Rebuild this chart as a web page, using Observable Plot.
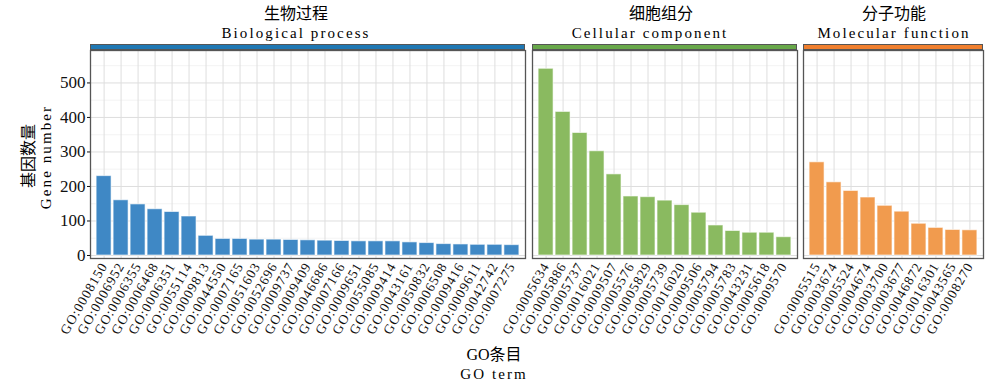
<!DOCTYPE html>
<html>
<head>
<meta charset="utf-8">
<script src="https://cdn.jsdelivr.net/npm/d3@7"></script>
<script src="https://cdn.jsdelivr.net/npm/@observablehq/plot@0.6"></script>
<style>
  html, body { margin: 0; padding: 0; background: #fff; }
  #chart { position: relative; width: 1000px; height: 386px; overflow: hidden; }
  #chart svg { position: absolute; left: 0; top: 0; }
  .t { position: absolute; white-space: nowrap; color: #000; transform: translate(-50%, -50%); line-height: 1; }
  .cn { font-family: "Liberation Serif", "Noto Sans CJK SC", serif; font-size: 16px; }
  .en { font-family: "Liberation Serif", "Times New Roman", serif; font-size: 15px; letter-spacing: 2.1px; }
  .strip { position: absolute; top: 44px; height: 6px; box-sizing: border-box; border: 1px solid #555; }
  #chart svg g[aria-label="y-axis tick label"] { font-family: "Liberation Serif", "Times New Roman", serif !important; font-size: 17px !important; }
  #chart svg g[aria-label="x-axis tick label"] { font-family: "Liberation Serif", "Times New Roman", serif !important; font-size: 13.5px !important; letter-spacing: 1px; }
</style>
</head>
<body>
<div id="chart"></div>
<script>
// ---- data ----
const bpTerms = ["GO:0008150","GO:0006952","GO:0006355","GO:0006468","GO:0006351","GO:0055114","GO:0009813","GO:0044550","GO:0007165","GO:0051603","GO:0052696","GO:0009737","GO:0009409","GO:0046686","GO:0007166","GO:0009651","GO:0055085","GO:0009414","GO:0043161","GO:0050832","GO:0006508","GO:0009416","GO:0009611","GO:0042742","GO:0007275"];
const bpCounts = [230,160,148,134,126,113,57,48,48,46,46,45,44,43,42,41,41,41,38,36,33,32,31,31,30];

const ccTerms = ["GO:0005634","GO:0005886","GO:0005737","GO:0016021","GO:0009507","GO:0005576","GO:0005829","GO:0005739","GO:0016020","GO:0009506","GO:0005794","GO:0005783","GO:0043231","GO:0005618","GO:0009570"];
const ccCounts = [541,416,355,302,235,171,169,159,146,124,87,71,66,66,53];

const mfTerms = ["GO:0005515","GO:0003674","GO:0005524","GO:0004674","GO:0003700","GO:0003677","GO:0046872","GO:0016301","GO:0043565","GO:0008270"];
const mfCounts = [270,212,187,168,144,127,92,80,74,73];

const panelTitlesCn = ["生物过程","细胞组分","分子功能"];
const panelTitlesEn = ["Biological process","Cellular component","Molecular function"];
const yTicks = [0,100,200,300,400,500];
const yMinorTicks = [50,150,250,350,450,550];
const yTitleCn = "基因数量", yTitleEn = "Gene number";
const xTitleCn = "GO条目", xTitleEn = "GO term";

// ---- styling / layout ----
const W = 1000, H = 386;
const panelTop = 50, panelBottom = 258;
const yDomain = [-8.7, 594];
const panels = [
  {terms: bpTerms, counts: bpCounts, left: 90, right: 525, fill: "#3f88c5", strip: "#1f78b4", yAxis: true, cnX: 296, enX: 296},
  {terms: ccTerms, counts: ccCounts, left: 532, right: 797, fill: "#8aba60", strip: "#68a84a", yAxis: false, cnX: 661, enX: 650},
  {terms: mfTerms, counts: mfCounts, left: 803, right: 983, fill: "#f19b4e", strip: "#f07f2e", yAxis: false, cnX: 894, enX: 894}
];

const chart = document.getElementById("chart");

panels.forEach((p, i) => {
  const data = p.terms.map((t, k) => ({term: t, n: p.counts[k]}));
  const svg = Plot.plot({
    width: W, height: H,
    marginLeft: p.left, marginRight: W - p.right,
    marginTop: panelTop, marginBottom: H - panelBottom,
    style: {background: "transparent", overflow: "visible"},
    x: {type: "band", domain: p.terms, paddingInner: 0.12, paddingOuter: 0.36, round: false, label: null},
    y: {domain: yDomain, label: null, axis: null},
    marks: [
      Plot.gridY(yMinorTicks, {stroke: "#f0f0f0", strokeOpacity: 1, strokeWidth: 0.8}),
      Plot.gridY(yTicks, {stroke: "#dedede", strokeOpacity: 1, strokeWidth: 1}),
      Plot.gridX({stroke: "#dedede", strokeOpacity: 1, strokeWidth: 1}),
      Plot.barY(data, {x: "term", y: "n", fill: p.fill, stroke: "#ffffff", strokeOpacity: 0.6, strokeWidth: 1}),
      Plot.frame({stroke: "#555", strokeWidth: 1.3}),
      Plot.axisX({tickRotate: -60, tickSize: 0, tickPadding: 5, fontFamily: "Liberation Serif", fontSize: 13.5, color: "#111", label: null}),
      p.yAxis ? Plot.axisY(yTicks, {tickSize: 3, tickPadding: 2, fontFamily: "Liberation Serif", fontSize: 17, color: "#111", label: null}) : null
    ]
  });
  chart.appendChild(svg);

  const strip = document.createElement("div");
  strip.className = "strip";
  strip.style.left = p.left + "px";
  strip.style.width = (p.right - p.left) + "px";
  strip.style.background = p.strip;
  chart.appendChild(strip);

  const cn = document.createElement("div");
  cn.className = "t cn";
  cn.textContent = panelTitlesCn[i];
  cn.style.left = p.cnX + "px"; cn.style.top = "14px";
  chart.appendChild(cn);

  const en = document.createElement("div");
  en.className = "t en";
  en.textContent = panelTitlesEn[i];
  en.style.left = p.enX + "px"; en.style.top = "33px";
  chart.appendChild(en);
});

// axis titles
function addText(txt, cls, x, y, rot) {
  const d = document.createElement("div");
  d.className = "t " + cls;
  d.textContent = txt;
  d.style.left = x + "px"; d.style.top = y + "px";
  if (rot) d.style.transform = "translate(-50%, -50%) rotate(" + rot + "deg)";
  chart.appendChild(d);
}
addText(yTitleCn, "cn", 29, 156, -90);
addText(yTitleEn, "en", 46, 157, -90);
addText(xTitleCn, "cn", 494, 355, 0);
addText(xTitleEn, "en", 494, 374, 0);
</script>
</body>
</html>
